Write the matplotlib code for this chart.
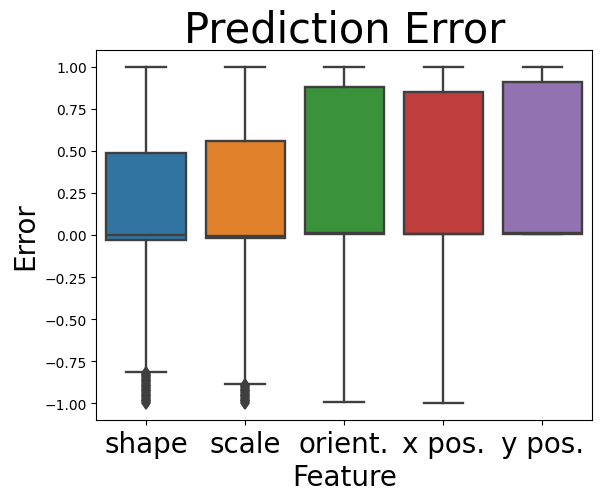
import numpy as np
import matplotlib
matplotlib.use('Agg')
import matplotlib.pyplot as plt

features = ['shape', 'scale', 'orient.', 'x pos.', 'y pos.']
q1 = [-0.028, -0.016, 0.005, 0.004, 0.003]
med = [0.002, -0.004, 0.012, 0.006, 0.010]
q3 = [0.488, 0.561, 0.881, 0.851, 0.911]
whislo = [-0.814, -0.885, -0.992, -1.0, 0.003]
whishi = [1.0, 1.0, 1.0, 1.0, 1.0]
fliers = [
    [-0.82, -0.83, -0.84, -0.85, -0.86, -0.87, -0.88, -0.89, -0.90, -0.91,
     -0.92, -0.93, -0.94, -0.95, -0.96, -0.97, -0.98, -0.99, -1.0],
    [-0.89, -0.90, -0.91, -0.92, -0.93, -0.94, -0.95, -0.96, -0.97, -0.98,
     -0.99, -1.0],
    [], [], [],
]
colors = ['#3274a1', '#e1812c', '#3a923a', '#c03d3e', '#9372b2']

stats = []
for i in range(len(features)):
    stats.append(dict(label=features[i], q1=q1[i], med=med[i], q3=q3[i],
                      whislo=whislo[i], whishi=whishi[i], fliers=fliers[i]))

fig = plt.figure(figsize=(6.05, 5.02), dpi=100)
ax = fig.add_axes([0.1595, 0.1614, 0.819, 0.737])

lc = '#3f3f3f'
lw = 1.7
bp = ax.bxp(stats, positions=range(len(features)), widths=0.8, patch_artist=True,
            boxprops=dict(edgecolor=lc, linewidth=lw),
            medianprops=dict(color=lc, linewidth=lw),
            whiskerprops=dict(color=lc, linewidth=lw),
            capprops=dict(color=lc, linewidth=lw),
            flierprops=dict(marker='d', markerfacecolor=lc, markeredgecolor=lc,
                            markersize=6, markeredgewidth=1.2))
for patch, c in zip(bp['boxes'], colors):
    patch.set_facecolor(c)
for cap in bp['caps']:
    x = cap.get_xdata()
    m = (x[0] + x[1]) / 2
    cap.set_xdata([m - 0.2, m + 0.2])

ax.set_xlim(-0.5, 4.5)
ax.set_ylim(-1.1, 1.1)
ax.set_yticks(np.arange(-1.0, 1.01, 0.25))
ax.set_xticks(range(len(features)))
ax.set_xticklabels(features, fontsize=20)
ax.set_xlabel('Feature', fontsize=20)
ax.set_ylabel('Error', fontsize=20)
ax.set_title('Prediction Error', fontsize=30)

fig.savefig('out.png', dpi=100)
